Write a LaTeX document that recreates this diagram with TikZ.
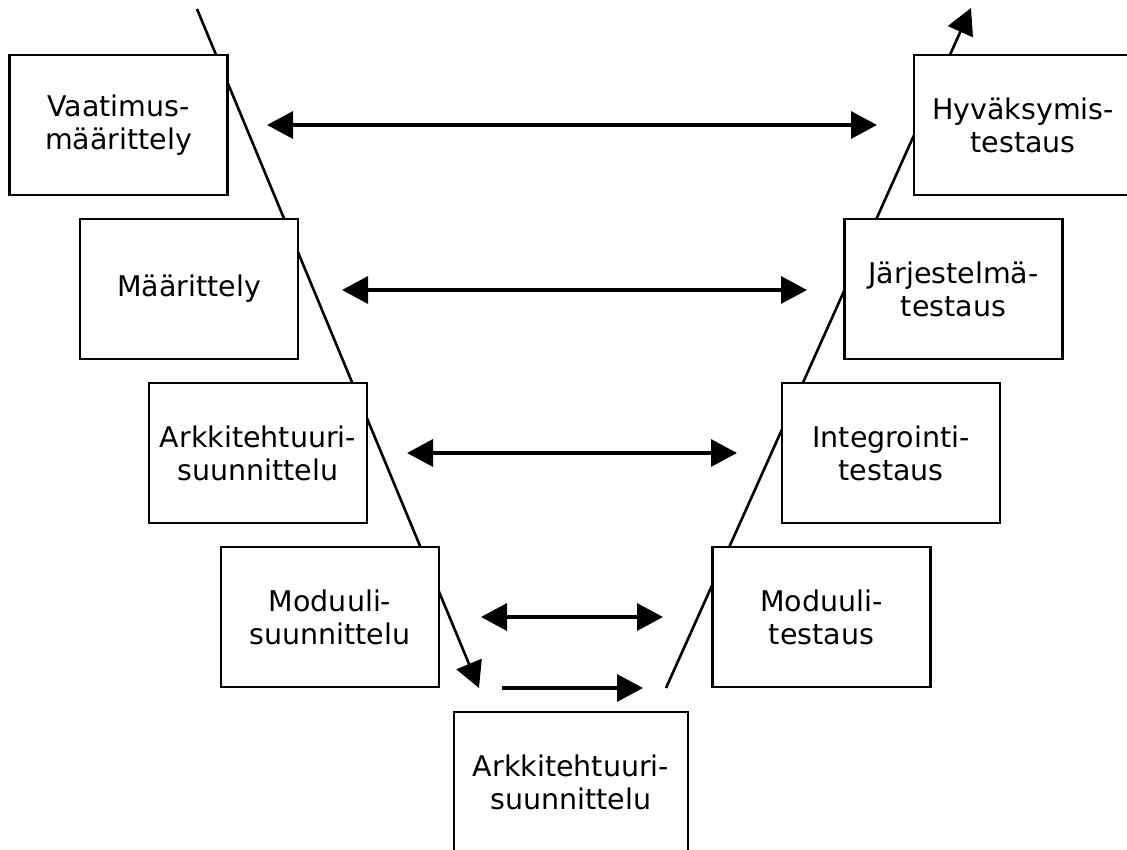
\documentclass[tikz,border=0pt]{standalone}
\usepackage{fontspec}
\setmainfont{DejaVu Sans}
\usetikzlibrary{arrows.meta}
\begin{document}
\begin{tikzpicture}[x=1pt,y=-1pt,
  phase/.style={draw=black,line width=2.8pt,fill=white,rectangle,
    minimum width=218pt,minimum height=140pt,inner sep=0pt,align=center,
    font=\fontsize{28.5}{33}\selectfont},
  vline/.style={line width=2.6pt,-{Triangle[length=26pt,width=27pt]}},
  link/.style={line width=3.4pt,{Triangle[length=26pt,width=27pt]}-{Triangle[length=26pt,width=27pt]}},
  flow/.style={line width=3.4pt,-{Triangle[length=26pt,width=27pt]}}]
\useasboundingbox (0,0) rectangle (1127,850);
\clip (0,0) rectangle (1127,850);

% the two legs of the V, drawn under the boxes
\coordinate (ls) at (197,9);
\coordinate (le) at (479,688);
\coordinate (rs) at (666,688);
\coordinate (re) at (971,8);
\draw[vline] (ls) -- (le);
\draw[vline] (rs) -- (re);

% design phases
\node[phase] (v1) at (118.5,125) {Vaatimus-\\määrittely};
\node[phase] (v2) at (189,289) {Määrittely};
\node[phase] (v3) at (258,453) {Arkkitehtuuri-\\suunnittelu};
\node[phase] (v4) at (330,617) {Moduuli-\\suunnittelu};
% bottom of the V
\node[phase,minimum width=234pt] (b) at (571,782) {Arkkitehtuuri-\\suunnittelu};
% testing phases
\node[phase] (r1) at (1023,125) {Hyväksymis-\\testaus};
\node[phase] (r2) at (953.5,289) {Järjestelmä-\\testaus};
\node[phase] (r3) at (891,453) {Integrointi-\\testaus};
\node[phase] (r4) at (821.5,617) {Moduuli-\\testaus};

% links between matching levels
\coordinate (a1l) at (267,125);  \coordinate (a1r) at (877,125);
\coordinate (a2l) at (342,290);  \coordinate (a2r) at (807,290);
\coordinate (a3l) at (407,453);  \coordinate (a3r) at (737,453);
\coordinate (a4l) at (481,617);  \coordinate (a4r) at (663,617);
\coordinate (bl) at (502,688);   \coordinate (br) at (643,688);
\draw[link] (a1l) -- (a1r);
\draw[link] (a2l) -- (a2r);
\draw[link] (a3l) -- (a3r);
\draw[link] (a4l) -- (a4r);
\draw[flow] (bl) -- (br);
\end{tikzpicture}
\end{document}
